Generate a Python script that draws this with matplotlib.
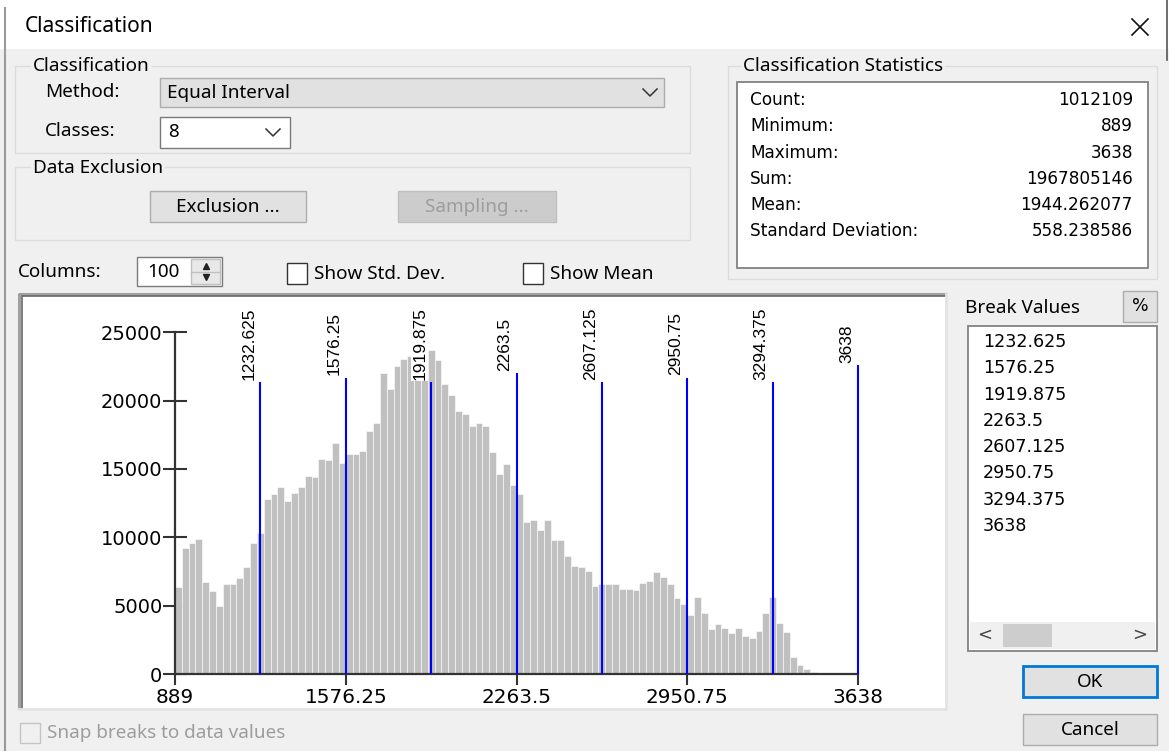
import matplotlib.pyplot as plt
from matplotlib.patches import Rectangle
from matplotlib import transforms
import numpy as np

# classification statistics
stat_names = ["Count:", "Minimum:", "Maximum:", "Sum:", "Mean:", "Standard Deviation:"]
stat_values = ["1012109", "889", "3638", "1967805146", "1944.262077", "558.238586"]

# histogram, 100 columns between min and max
data_min, data_max = 889, 3638
n_columns = 100
counts = [
    6340, 9200, 9610, 9850, 6760, 6100, 4980, 6560, 6560, 7020,
    7800, 9610, 10290, 12800, 13150, 13710, 12680, 13270, 13710, 14510,
    14390, 15760, 15660, 16880, 15420, 16100, 16100, 16320, 17800, 18390,
    22000, 20880, 22560, 23020, 23300, 23100, 23500, 23700, 23000, 21200,
    20410, 19270, 19050, 18150, 18370, 18150, 16220, 14660, 15340, 13830,
    13150, 11100, 11240, 10560, 11240, 9780, 9780, 8610, 7930, 7800,
    7540, 6460, 6590, 6590, 6590, 6220, 6220, 6120, 6680, 6800,
    7490, 7070, 6590, 5540, 5120, 4320, 5660, 4440, 3270, 3630,
    3390, 2980, 3390, 2780, 2610, 3150, 4440, 5660, 3760, 3050,
    1220, 660, 340, 120, 60, 30, 15, 8, 4, 2,
]
breaks = [1232.625, 1576.25, 1919.875, 2263.5, 2607.125, 2950.75, 3294.375, 3638]
break_labels = ["1232.625", "1576.25", "1919.875", "2263.5", "2607.125", "2950.75", "3294.375", "3638"]
x_ticks = [889, 1576.25, 2263.5, 2950.75, 3638]
x_tick_labels = ["889", "1576.25", "2263.5", "2950.75", "3638"]
y_ticks = [0, 5000, 10000, 15000, 20000, 25000]

W, H = 1169, 751
UI = "Noto Sans"
TAHOMA = "DejaVu Sans"
BG = "#f0f0f0"

fig = plt.figure(figsize=(W / 100, H / 100), dpi=100, facecolor=BG)
bg = fig.add_axes([0, 0, 1, 1])
bg.set_xlim(0, W)
bg.set_ylim(H, 0)
bg.axis("off")


def box(x0, y0, x1, y1, fc="none", ec="#adadad", lw=1.0, z=1):
    bg.add_patch(Rectangle((x0, y0), x1 - x0, y1 - y0, facecolor=fc,
                           edgecolor=ec, linewidth=lw, zorder=z))


def label(x, y, s, size=13.6, color="black", ha="left", family=UI, back=None, z=3):
    kw = {}
    if back:
        kw["bbox"] = dict(facecolor=back, edgecolor="none", pad=1.5)
    bg.text(x, y, s, fontsize=size, color=color, ha=ha, va="center",
            family=family, zorder=z, **kw)


def chevron(x, y):
    bg.plot([x - 7, x, x + 7], [y - 3, y + 4, y - 3], color="#333333", lw=1.1, zorder=3)


# title bar
box(0, 0, W, 49, fc="white", ec="none", z=0)
bg.plot([5, 5], [8, H], color="#9a9a9a", lw=1.5, zorder=2)
bg.plot([1167, 1167], [0, 60], color="#555555", lw=1.2, zorder=2)
label(25, 27, "Classification", size=15)
bg.plot([1132, 1148], [19, 35], color="#111111", lw=1.2)
bg.plot([1132, 1148], [35, 19], color="#111111", lw=1.2)

# classification group
box(15, 66, 690, 153, ec="#dcdcdc")
label(33, 66, "Classification", back=BG)
label(45, 92, "Method:")
box(160, 78, 664, 107, fc="#e1e1e1", ec="#adadad")
label(167, 93, "Equal Interval")
chevron(650, 92)
label(45, 131, "Classes:")
box(160, 117, 290, 148, fc="white", ec="#7a7a7a")
label(168, 132, "8")
chevron(273, 132)

# data exclusion group
box(15, 167, 690, 240, ec="#dcdcdc")
label(33, 168, "Data Exclusion", back=BG)
box(150, 191, 306, 222, fc="#e1e1e1", ec="#adadad")
label(228, 207, "Exclusion ...", ha="center")
box(398, 191, 556, 222, fc="#cccccc", ec="#bfbfbf")
label(477, 207, "Sampling ...", ha="center", color="#9d9d9d")

# columns row
label(18, 272, "Columns:")
box(137, 257, 222, 286, fc="white", ec="#7a7a7a")
label(147, 272, "100")
box(191, 259, 220, 284, fc="#e8e8e8", ec="#c0c0c0")
bg.plot([191, 220], [271.5, 271.5], color="#c0c0c0", lw=1)
bg.plot(205.5, 266, marker="^", ms=5, color="#222222")
bg.plot(205.5, 277, marker="v", ms=5, color="#222222")
box(287, 263, 307, 284, fc="white", ec="#333333")
label(314, 274, "Show Std. Dev.")
box(523, 263, 543, 284, fc="white", ec="#333333")
label(550, 274, "Show Mean")

# statistics group
box(728, 66, 1157, 279, ec="#dcdcdc")
label(743, 66, "Classification Statistics", back=BG)
box(737, 82, 1148, 268, fc="white", ec="#828282", lw=1.3)
for k, (name, val) in enumerate(zip(stat_names, stat_values)):
    yy = 100 + 26.3 * k
    label(750, yy, name, size=12.2, family=TAHOMA)
    label(1133, yy, val, size=12.2, family=TAHOMA, ha="right")

# chart panel (sunken frame: dark top/left, light bottom/right)
box(18, 293, 946, 709, fc="white", ec="none", z=0)
bg.plot([19, 19, 946], [709, 293.5, 293.5], color="#a0a0a0", lw=2.2, zorder=1,
        solid_capstyle="butt")
bg.plot([21.5, 21.5, 946], [709, 296, 296], color="#696969", lw=1.2, zorder=1,
        solid_capstyle="butt")
bg.plot([18, 946, 946], [709, 709, 293], color="#e3e3e3", lw=2, zorder=1)

# break values list
label(965, 308, "Break Values")
box(1123, 291, 1157, 322, fc="#e1e1e1", ec="#adadad")
label(1140, 306, "%", ha="center", size=12.5, family=TAHOMA)
box(968, 326, 1157, 651, fc="white", ec="#828282", lw=1.3)
for k, s in enumerate(break_labels):
    label(983, 342 + 26.3 * k, s, size=12.6, family=TAHOMA)
box(970, 622, 1155, 649, fc=BG, ec="none")
box(1003, 624, 1052, 647, fc="#cdcdcd", ec="none")
label(985, 635, "<", size=13, family=TAHOMA, ha="center", color="#444444")
label(1140, 635, ">", size=13, family=TAHOMA, ha="center", color="#444444")

# buttons
box(1023, 666, 1157, 697, fc="#e1e1e1", ec="#0078d7", lw=2)
label(1090, 682, "OK", ha="center")
box(1023, 714, 1157, 745, fc="#e1e1e1", ec="#adadad")
label(1090, 730, "Cancel", ha="center")

# snap checkbox (disabled)
box(20, 723, 40, 743, fc=BG, ec="#c4c4c4")
label(47, 733, "Snap breaks to data values", color="#9d9d9d")

# histogram axes
ax_left, ax_right, ax_bottom, ax_top = 175, 858, 674, 300
ax = fig.add_axes([ax_left / W, (H - ax_bottom) / H,
                   (ax_right - ax_left) / W, (ax_bottom - ax_top) / H])
px_per_unit = (674 - 332.3) / 25000
ax.set_xlim(data_min, data_max)
ax.set_ylim(0, (ax_bottom - ax_top) / px_per_unit)
ax.patch.set_visible(False)

edges = np.linspace(data_min, data_max, n_columns + 1)
ax.bar(edges[:-1], counts, width=edges[1] - edges[0], align="edge",
       color="#c0c0c0", edgecolor="white", linewidth=0.4, zorder=2)

for side in ["top", "right"]:
    ax.spines[side].set_visible(False)
for side in ["left", "bottom"]:
    ax.spines[side].set_color("#333333")
    ax.spines[side].set_linewidth(1.6)
ax.spines["left"].set_bounds(0, 25000)

ax.set_yticks(y_ticks)
ax.set_yticklabels([str(v) for v in y_ticks])
ax.set_xticks(x_ticks)
ax.set_xticklabels(x_tick_labels)
ax.tick_params(axis="y", direction="inout", length=17, width=1.5, color="#333333",
               pad=0.5, labelsize=14)
ax.tick_params(axis="x", direction="out", length=8, width=1.5, color="#333333",
               pad=2, labelsize=14.4)
for lab in ax.get_xticklabels() + ax.get_yticklabels():
    lab.set_family(TAHOMA)

# break labels, then lines up to the label bottoms
label_y = (ax_bottom - 344) / px_per_unit
shift = transforms.offset_copy(ax.transData, fig=fig, x=-4, y=0, units="dots")
texts = []
for b, s in zip(breaks, break_labels):
    t = ax.text(b, label_y, s, transform=shift, rotation=90, rotation_mode="anchor",
                ha="center", va="bottom", fontsize=12.5, family="Liberation Sans",
                bbox=dict(facecolor="white", edgecolor="none", pad=0.6),
                zorder=5, clip_on=False)
    texts.append(t)

fig.canvas.draw()
renderer = fig.canvas.get_renderer()
inv = ax.transData.inverted()
for b, t in zip(breaks, texts):
    bb = t.get_window_extent(renderer)
    top = inv.transform((0, bb.y0 - 2))[1]
    ax.vlines(b, 0, top, color="#0000ff", lw=1.5, zorder=4, clip_on=False)

fig.savefig("out.png", dpi=100, facecolor=BG)
